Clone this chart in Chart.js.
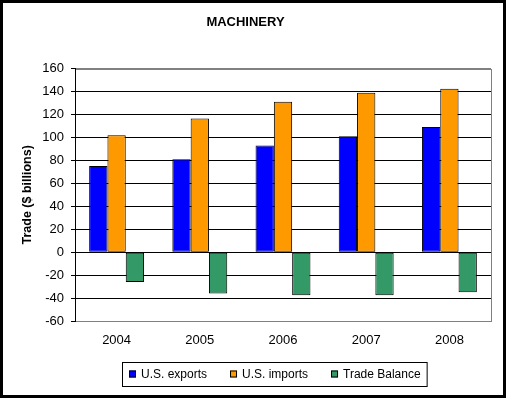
<!DOCTYPE html>
<html>
<head>
<meta charset="utf-8">
<script src="https://cdn.jsdelivr.net/npm/chart.js@4/dist/chart.umd.min.js"></script>
<style>
  html, body { margin: 0; padding: 0; background: #fff; }
  #wrap { width: 506px; height: 398px; position: relative; }
</style>
</head>
<body>
<div id="wrap"><canvas id="machinery"></canvas></div>
<script>
var years = ['2004', '2005', '2006', '2007', '2008'];
var exportsVals = [75, 81, 93, 101, 109];
var importsVals = [102, 116.5, 131, 139, 142.5];
var balanceVals = [-26, -36, -37.5, -37.5, -35];
var yTicks = [-60, -40, -20, 0, 20, 40, 60, 80, 100, 120, 140, 160];

var FONT = 'Arial, "Liberation Sans", sans-serif';

// plot frame, outer border and boxed legend
var excelLook = {
    id: 'excelLook',
    beforeDatasetsDraw: function(chart) {
        var ctx = chart.ctx, a = chart.chartArea;
        ctx.save();
        ctx.strokeStyle = '#808080';
        ctx.lineWidth = 1;
        ctx.strokeRect(Math.round(a.left) + 0.5, Math.round(a.top) + 0.5,
            Math.round(a.right - a.left), Math.round(a.bottom - a.top));
        ctx.strokeStyle = '#000';
        ctx.beginPath();
        ctx.moveTo(Math.round(a.left) + 0.5, a.top);
        ctx.lineTo(Math.round(a.left) + 0.5, a.bottom + 1);
        ctx.stroke();
        ctx.restore();
    },
    afterDraw: function(chart) {
        var ctx = chart.ctx;
        ctx.save();
        ctx.strokeStyle = '#000';
        ctx.lineWidth = 3;
        ctx.strokeRect(1.5, 1.5, chart.width - 3, chart.height - 3);

        // legend
        ctx.font = '12px ' + FONT;
        ctx.textBaseline = 'middle';
        var x = 129, y = 374, gap = 23;
        var ds = chart.data.datasets;
        var right = x;
        for (var i = 0; i < ds.length; i++) {
            ctx.fillStyle = ds[i].backgroundColor;
            ctx.fillRect(x, y - 3.5, 7, 7);
            ctx.lineWidth = 1;
            ctx.strokeStyle = '#000';
            ctx.strokeRect(x + 0.5, y - 3.5 + 0.5, 6, 6);
            ctx.fillStyle = '#000';
            ctx.fillText(ds[i].label, x + 12, y + 1);
            right = x + 12 + ctx.measureText(ds[i].label).width;
            x = right + gap;
        }
        ctx.lineWidth = 1;
        ctx.strokeRect(122.5, 362.5, right + 6 - 122, 24);
        ctx.restore();
    }
};

var ctx = document.getElementById('machinery').getContext('2d');
var chart = new Chart(ctx, {
    type: 'bar',
    data: {
        labels: years,
        datasets: [{
            label: 'U.S. exports',
            data: exportsVals,
            backgroundColor: '#0000FF'
        }, {
            label: 'U.S. imports',
            data: importsVals,
            backgroundColor: '#FF9900'
        }, {
            label: 'Trade Balance',
            data: balanceVals,
            backgroundColor: '#339966'
        }]
    },
    options: {
        responsive: true,
        maintainAspectRatio: false,
        animation: false,
        devicePixelRatio: 1,
        layout: { padding: { left: 0, right: 15, top: 0, bottom: 0 } },
        datasets: {
            bar: {
                borderColor: '#000',
                borderWidth: 1,
                borderSkipped: false,
                barPercentage: 1,
                categoryPercentage: 0.66
            }
        },
        plugins: {
            legend: { display: false },
            tooltip: { enabled: false },
            title: {
                display: true,
                text: 'MACHINERY',
                color: '#000',
                font: { family: FONT, size: 13, weight: 'bold', lineHeight: 1.2 },
                padding: { top: 15, bottom: 38 }
            }
        },
        scales: {
            x: {
                grid: { display: false, drawTicks: false },
                border: { display: false },
                ticks: {
                    color: '#000',
                    padding: 12,
                    font: { family: FONT, size: 13 }
                },
                afterFit: function(s) { s.height = 77; }
            },
            y: {
                min: -60,
                max: 160,
                afterBuildTicks: function(s) {
                    s.ticks = yTicks.map(function(v) { return { value: v }; });
                },
                grid: {
                    color: function(c) {
                        return (c.tick.value === 160 || c.tick.value === -60) ? '#808080' : '#000';
                    },
                    tickColor: '#000',
                    tickLength: 4,
                    lineWidth: 1
                },
                border: { display: true, color: '#000' },
                ticks: {
                    color: '#000',
                    padding: 7,
                    font: { family: FONT, size: 13 }
                },
                title: {
                    display: true,
                    text: 'Trade ($ billions)',
                    color: '#000',
                    font: { family: FONT, size: 12.5, weight: 'bold', lineHeight: 1.2 },
                    padding: { top: 20, bottom: 0 }
                },
                afterFit: function(s) { s.width = 75; }
            }
        }
    },
    plugins: [excelLook]
});
</script>
</body>
</html>
